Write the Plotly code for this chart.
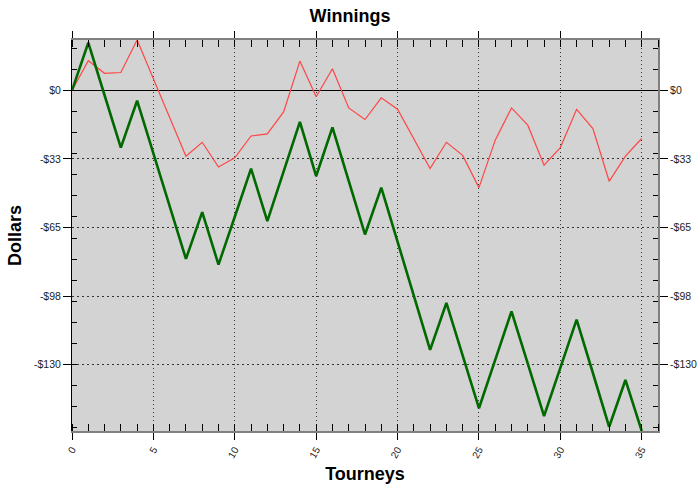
import plotly.graph_objects as go

# tourney results, cumulative dollars
tourneys = list(range(36))
red_winnings = [
    0, 14.1, 8.1, 8.5, 23.9, 5.7, -12.7, -31.2, -24.6, -36.3,
    -32.0, -21.6, -20.6, -10.2, 13.9, -3.0, 10.3, -8.3, -13.8, -3.5,
    -8.9, -23.0, -37.1, -24.6, -30.8, -46.1, -23.6, -8.3, -16.5, -35.5,
    -27.1, -9.0, -18.1, -43.1, -31.2, -22.8,
]
green_winnings = [
    0, 22.6, -2.3, -27.1, -4.9, -29.9, -54.9, -79.9, -57.7, -82.6,
    -59.9, -37.1, -62.0, -38.5, -14.9, -40.6, -17.5, -42.9, -68.3, -46.1,
    -72.0, -97.5, -123.0, -100.8, -125.8, -150.7, -127.8, -104.8, -129.6, -154.4,
    -131.6, -108.7, -134.0, -159.5, -137.3, -161.5,
]
y_tickvals = [0, -32.5, -65, -97.5, -130]
y_ticktext = ["$0", "-$33", "-$65", "-$98", "-$130"]

font = "Liberation Sans, Arial, sans-serif"
y_range = [min(red_winnings + green_winnings), max(red_winnings + green_winnings)]

fig = go.Figure()
fig.add_trace(go.Scatter(
    x=tourneys, y=red_winnings, mode="lines",
    line={"color": "rgb(255,70,70)", "width": 1.2}, showlegend=False,
))
# green goes on the right-hand axis (same range) so its labels get drawn
fig.add_trace(go.Scatter(
    x=tourneys, y=green_winnings, mode="lines", yaxis="y2",
    line={"color": "rgb(0,105,0)", "width": 2.6}, showlegend=False,
))

yaxis_common = dict(
    range=y_range, automargin=False,
    tickmode="array", tickvals=y_tickvals, ticktext=y_ticktext,
    ticks="outside", ticklen=8, tickcolor="black", tickwidth=1,
    minor={"tickmode": "linear", "tick0": 0, "dtick": 10, "ticks": "inside",
           "ticklen": 5, "tickcolor": "black", "showgrid": False},
    tickfont={"family": font, "size": 10.5, "color": "#222"},
)

fig.update_layout(
    width=700, height=492,
    margin={"l": 72, "r": 42, "t": 40, "b": 61, "autoexpand": False},
    paper_bgcolor="white", plot_bgcolor="#d3d3d3",
    title={"text": "<b>Winnings</b>", "x": 0.5, "xanchor": "center", "y": 0.968,
           "yanchor": "middle", "font": {"family": font, "size": 18, "color": "black"}},
    xaxis=dict(
        range=[0, 36], tickmode="linear", tick0=0, dtick=5, automargin=False,
        ticks="outside", ticklen=7, tickcolor="black", tickangle=-60,
        minor={"dtick": 1, "ticks": "inside", "ticklen": 5, "tickcolor": "black",
               "showgrid": False},
        showline=True, linecolor="#808080", linewidth=2, mirror="allticks",
        showgrid=True, gridcolor="#333", griddash="1px,3px", gridwidth=1,
        zeroline=False,
        tickfont={"family": font, "size": 10, "color": "#222"},
        title={"text": "<b>Tourneys</b>", "standoff": 8,
               "font": {"family": font, "size": 18, "color": "black"}},
    ),
    yaxis=dict(
        **yaxis_common,
        showline=True, linecolor="black", linewidth=1,
        showgrid=True, gridcolor="#333", griddash="2px,3px", gridwidth=1,
        zeroline=True, zerolinecolor="black", zerolinewidth=1,
        title={"text": "<b>Dollars</b>", "standoff": 7,
               "font": {"family": font, "size": 18, "color": "black"}},
    ),
    yaxis2=dict(
        **yaxis_common,
        overlaying="y", side="right", showticklabels=True,
        showline=True, linecolor="#808080", linewidth=2,
        showgrid=False, zeroline=False,
    ),
)

# page body has a default 8px margin; drop it so the chart sits at the corner
fig.write_html(
    "out.html",
    config={"displayModeBar": False},
    post_script="document.body.style.margin = '0';",
)
